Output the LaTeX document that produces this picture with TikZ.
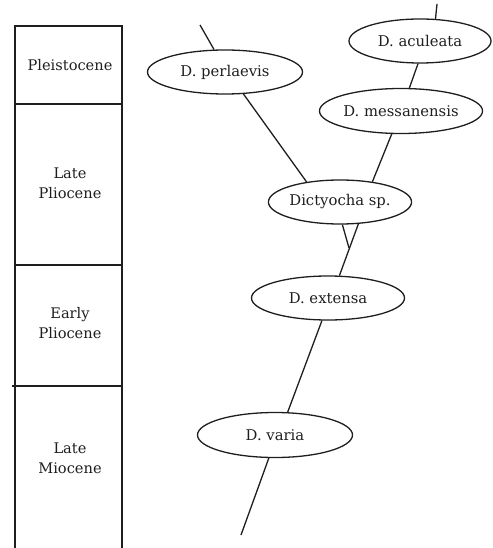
\documentclass[tikz,border=0pt]{standalone}
\usepackage{fontspec}
\setmainfont{DejaVu Serif}
\usetikzlibrary{shapes.geometric}
\definecolor{ink}{HTML}{1E1E1E}
\tikzset{
  taxon/.style={draw=ink, line width=1.3pt, ellipse, inner sep=0pt, text=ink,
    font=\fontsize{14.8}{17}\selectfont},
  period/.style={text=ink, align=center, font=\fontsize{14.6}{20}\selectfont},
  branch/.style={draw=ink, line width=1.3pt},
  frame/.style={draw=ink, line width=1.3pt}
}
\begin{document}
\begin{tikzpicture}[x=1pt,y=-1pt]
\useasboundingbox (0,0) rectangle (492,548);
% time column
\draw[frame] (15,548) -- (15,26) -- (122,26) -- (122,548);
\draw[frame] (15,104) -- (122,104);
\draw[frame] (15,265) -- (122,265);
\draw[frame] (12,386) -- (122,386);
\node[period] (plei) at (70,65) {Pleistocene};
\node[period] (lplio) at (70,183) {Late\\Pliocene};
\node[period] (eplio) at (70,323) {Early\\Pliocene};
\node[period] (lmio) at (70,458) {Late\\Miocene};
% taxa
\node[taxon, minimum width=155pt, minimum height=44pt] (perl) at (225,72) {D. perlaevis};
\node[taxon, minimum width=142pt, minimum height=44pt] (acul) at (420,41) {D. aculeata};
\node[taxon, minimum width=153pt, minimum height=45pt] (mess) at (401,111) {D. messanensis};
\node[taxon, minimum width=135pt, minimum height=44pt] (dict) at (340,202) {Dictyocha sp.};
\node[taxon, minimum width=153pt, minimum height=44pt] (ext) at (328,298) {D. extensa};
\node[taxon, minimum width=155pt, minimum height=45pt] (var) at (275,435) {D. varia};
% free ends
\coordinate (perltop) at (200,25);
\coordinate (acultop) at (437,4);
\coordinate (vartail) at (241,535);
\coordinate (fork) at (349,248);
% branches
\draw[branch] (perltop) -- (perl.116.6);
\draw[branch] (acultop) -- (acul.55.7);
\draw[branch] (acul.-95.2) -- (mess.70.8);
\draw[branch] (mess.-112.2) -- (dict.32.9);
\draw[branch] (perl.-50.7) -- (dict.149.9);
\draw[branch] (dict.-50.7) -- (ext.63.4);
\draw[branch] (dict.-84.8) -- (fork);
\draw[branch] (ext.-105.3) -- (var.61.9);
\draw[branch] (var.-105) -- (vartail);
\end{tikzpicture}
\end{document}
